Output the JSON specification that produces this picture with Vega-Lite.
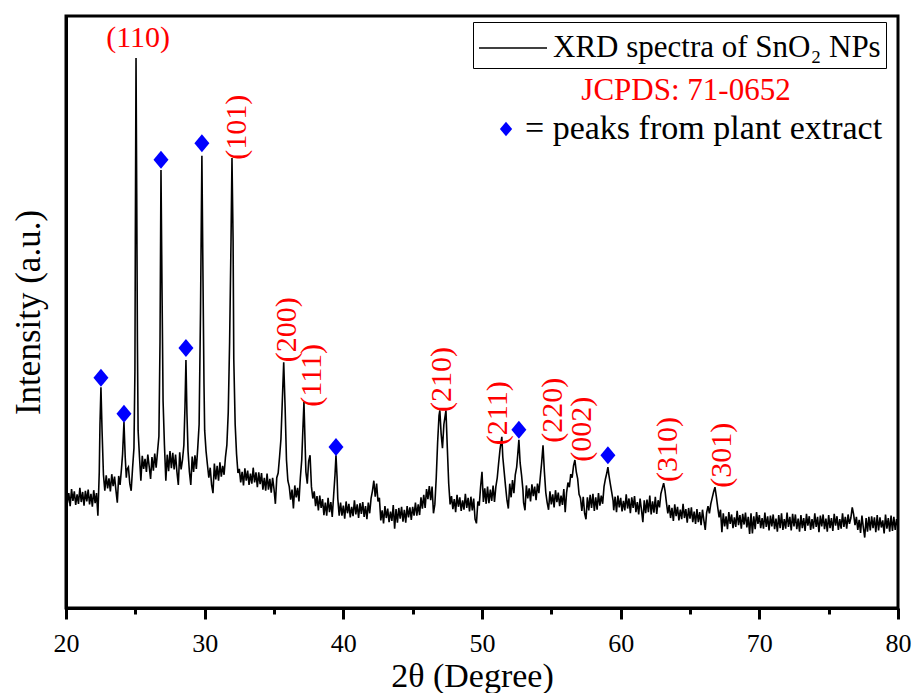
{
  "$schema": "https://vega.github.io/schema/vega-lite/v6.json",
  "width": 832,
  "height": 592,
  "autosize": {"type": "none"},
  "padding": {"left": 66, "top": 16, "right": 16, "bottom": 85},
  "background": "white",
  "config": {
    "font": "Liberation Serif",
    "view": {"stroke": "black", "strokeWidth": 3},
    "axis": {"grid": false}
  },
  "encoding": {
    "x": {
      "field": "x", "type": "quantitative",
      "scale": {"domain": [20, 80], "nice": false, "zero": false},
      "axis": {
        "values": [20, 25, 30, 35, 40, 45, 50, 55, 60, 65, 70, 75, 80],
        "labelExpr": "datum.value % 10 === 0 ? datum.label : ''",
        "tickSize": {"condition": {"test": "datum.value % 10 !== 0", "value": 6}, "value": 11},
        "tickWidth": 3, "tickColor": "black",
        "domainColor": "black", "domainWidth": 3,
        "labelFontSize": 26, "labelColor": "black", "labelPadding": 11,
        "labelFlush": false, "labelOverlap": false,
        "title": "2θ (Degree)", "titleFontSize": 34, "titleFontWeight": "normal",
        "titleColor": "black", "titlePadding": 3, "titleX": 406
      }
    },
    "y": {
      "field": "y", "type": "quantitative",
      "scale": {"domain": [0, 100], "nice": false, "zero": false},
      "axis": {
        "ticks": false, "labels": false,
        "domainColor": "black", "domainWidth": 3,
        "title": "Intensity (a.u.)", "titleFontSize": 35, "titleFontWeight": "normal",
        "titleColor": "black", "titlePadding": 20
      }
    }
  },
  "layer": [
    {
      "data": {"values": [
        {"x":20,"y":19.9},{"x":20.1,"y":17.7},{"x":20.2,"y":19.4},{"x":20.3,"y":17.2},{"x":20.4,"y":20.1},{"x":20.5,"y":18.1},{"x":20.6,"y":19.7},{"x":20.7,"y":17.4},{"x":20.8,"y":19.2},{"x":20.9,"y":17.6},
        {"x":21,"y":20.3},{"x":21.1,"y":17.9},{"x":21.2,"y":19.6},{"x":21.3,"y":17.3},{"x":21.4,"y":19.8},{"x":21.5,"y":18.0},{"x":21.6,"y":20.0},{"x":21.7,"y":17.5},{"x":21.8,"y":19.3},{"x":21.9,"y":17.1},
        {"x":22,"y":19.9},{"x":22.1,"y":17.7},{"x":22.2,"y":19.4},{"x":22.3,"y":15.6},{"x":22.4,"y":23.0},{"x":22.45,"y":31.0},{"x":22.52,"y":37.3},{"x":22.6,"y":30.0},{"x":22.7,"y":22.5},{"x":22.8,"y":19.8},{"x":22.9,"y":22.4},
        {"x":23,"y":20.2},{"x":23.1,"y":21.9},{"x":23.2,"y":19.7},{"x":23.3,"y":22.6},{"x":23.4,"y":20.6},{"x":23.5,"y":22.2},{"x":23.6,"y":19.9},{"x":23.7,"y":17.8},{"x":23.8,"y":22.3},{"x":23.9,"y":20.8},
        {"x":24,"y":23.5},{"x":24.08,"y":26.0},{"x":24.18,"y":31.4},{"x":24.27,"y":25.5},{"x":24.35,"y":22.0},{"x":24.4,"y":23.4},{"x":24.5,"y":23.8},{"x":24.6,"y":21.0},{"x":24.7,"y":19.8},{"x":24.8,"y":23.6},{"x":24.9,"y":27.0},{"x":24.97,"y":40.0},
        {"x":25,"y":62.0},{"x":25.05,"y":92.9},{"x":25.1,"y":70.0},{"x":25.15,"y":45.0},{"x":25.2,"y":30.0},{"x":25.3,"y":25.5},{"x":25.4,"y":21.5},{"x":25.5,"y":25.7},{"x":25.6,"y":23.5},{"x":25.7,"y":25.2},{"x":25.8,"y":23.0},{"x":25.9,"y":25.9},
        {"x":26,"y":23.9},{"x":26.1,"y":21.8},{"x":26.2,"y":25.5},{"x":26.3,"y":23.2},{"x":26.4,"y":26.1},{"x":26.5,"y":23.7},{"x":26.6,"y":26.4},{"x":26.7,"y":29.0},{"x":26.78,"y":45.0},{"x":26.85,"y":74.0},{"x":26.92,"y":55.0},
        {"x":27,"y":35.0},{"x":27.1,"y":27.5},{"x":27.2,"y":21.5},{"x":27.3,"y":25.9},{"x":27.4,"y":23.1},{"x":27.5,"y":26.5},{"x":27.6,"y":23.6},{"x":27.7,"y":26.2},{"x":27.8,"y":23.4},{"x":27.9,"y":25.9},
        {"x":28,"y":23.0},{"x":28.1,"y":20.8},{"x":28.2,"y":26.3},{"x":28.3,"y":23.4},{"x":28.4,"y":25.0},{"x":28.5,"y":27.5},{"x":28.58,"y":34.0},{"x":28.65,"y":41.9},{"x":28.72,"y":33.0},{"x":28.8,"y":26.5},{"x":28.9,"y":23.0},
        {"x":29,"y":20.8},{"x":29.1,"y":25.6},{"x":29.2,"y":23.0},{"x":29.3,"y":25.8},{"x":29.4,"y":23.5},{"x":29.5,"y":27.0},{"x":29.6,"y":31.0},{"x":29.7,"y":50.0},{"x":29.8,"y":76.4},{"x":29.87,"y":58.0},{"x":29.95,"y":38.0},
        {"x":30,"y":30.0},{"x":30.1,"y":26.5},{"x":30.2,"y":24.2},{"x":30.3,"y":22.0},{"x":30.4,"y":23.7},{"x":30.5,"y":20.8},{"x":30.6,"y":19.4},{"x":30.7,"y":24.4},{"x":30.8,"y":21.7},{"x":30.9,"y":24.0},
        {"x":31,"y":21.5},{"x":31.1,"y":24.6},{"x":31.2,"y":22.2},{"x":31.3,"y":24.0},{"x":31.4,"y":22.5},{"x":31.5,"y":25.5},{"x":31.6,"y":27.5},{"x":31.7,"y":33.0},{"x":31.8,"y":45.0},{"x":31.9,"y":62.0},{"x":31.97,"y":76.0},
        {"x":32.05,"y":62.0},{"x":32.1,"y":42.0},{"x":32.2,"y":31.0},{"x":32.3,"y":26.0},{"x":32.4,"y":22.8},{"x":32.5,"y":23.5},{"x":32.6,"y":21.2},{"x":32.7,"y":23.0},{"x":32.8,"y":20.7},{"x":32.9,"y":23.6},
        {"x":33,"y":21.5},{"x":33.1,"y":23.2},{"x":33.2,"y":20.8},{"x":33.3,"y":22.7},{"x":33.4,"y":21.0},{"x":33.5,"y":23.7},{"x":33.6,"y":21.2},{"x":33.7,"y":22.9},{"x":33.8,"y":20.4},{"x":33.9,"y":22.9},
        {"x":34,"y":20.9},{"x":34.1,"y":22.8},{"x":34.2,"y":20.0},{"x":34.3,"y":22.0},{"x":34.4,"y":19.8},{"x":34.5,"y":22.7},{"x":34.6,"y":20.0},{"x":34.7,"y":21.8},{"x":34.8,"y":19.5},{"x":34.9,"y":22.0},
        {"x":35,"y":20.1},{"x":35.1,"y":17.6},{"x":35.2,"y":22.0},{"x":35.3,"y":22.8},{"x":35.4,"y":25.5},{"x":35.5,"y":28.5},{"x":35.6,"y":35.0},{"x":35.7,"y":41.5},{"x":35.8,"y":34.0},{"x":35.9,"y":25.0},
        {"x":36,"y":21.5},{"x":36.1,"y":20.5},{"x":36.2,"y":18.3},{"x":36.3,"y":20.0},{"x":36.4,"y":16.8},{"x":36.5,"y":20.7},{"x":36.6,"y":18.7},{"x":36.7,"y":20.3},{"x":36.8,"y":18.0},{"x":36.9,"y":22.0},
        {"x":37,"y":25.0},{"x":37.08,"y":30.0},{"x":37.16,"y":34.8},{"x":37.24,"y":28.0},{"x":37.3,"y":23.0},{"x":37.4,"y":21.0},{"x":37.5,"y":24.8},{"x":37.6,"y":25.8},{"x":37.7,"y":20.5},{"x":37.8,"y":18.5},{"x":37.9,"y":19.7},
        {"x":38,"y":17.2},{"x":38.1,"y":18.9},{"x":38.2,"y":16.5},{"x":38.3,"y":19.0},{"x":38.4,"y":16.9},{"x":38.5,"y":18.4},{"x":38.6,"y":15.7},{"x":38.7,"y":17.8},{"x":38.8,"y":15.6},{"x":38.9,"y":18.6},
        {"x":39,"y":16.2},{"x":39.1,"y":17.9},{"x":39.2,"y":15.4},{"x":39.3,"y":19.0},{"x":39.4,"y":22.5},{"x":39.47,"y":25.8},{"x":39.55,"y":22.0},{"x":39.6,"y":18.5},{"x":39.7,"y":15.6},{"x":39.8,"y":17.8},{"x":39.9,"y":15.6},
        {"x":40,"y":17.3},{"x":40.1,"y":15.1},{"x":40.2,"y":18.0},{"x":40.3,"y":16.0},{"x":40.4,"y":17.6},{"x":40.5,"y":15.3},{"x":40.6,"y":17.1},{"x":40.7,"y":15.5},{"x":40.8,"y":18.2},{"x":40.9,"y":15.8},
        {"x":41,"y":17.5},{"x":41.1,"y":15.2},{"x":41.2,"y":17.7},{"x":41.3,"y":15.9},{"x":41.4,"y":17.9},{"x":41.5,"y":15.4},{"x":41.6,"y":17.2},{"x":41.7,"y":15.0},{"x":41.8,"y":17.8},{"x":41.9,"y":16.0},
        {"x":42,"y":18.5},{"x":42.1,"y":19.8},{"x":42.2,"y":21.5},{"x":42.3,"y":18.8},{"x":42.4,"y":21.0},{"x":42.5,"y":18.0},{"x":42.6,"y":18.6},{"x":42.7,"y":14.8},{"x":42.8,"y":16.5},{"x":42.9,"y":14.3},
        {"x":43,"y":17.2},{"x":43.1,"y":15.2},{"x":43.2,"y":16.8},{"x":43.3,"y":14.5},{"x":43.4,"y":16.3},{"x":43.5,"y":14.7},{"x":43.6,"y":17.4},{"x":43.7,"y":13.4},{"x":43.8,"y":16.7},{"x":43.9,"y":14.4},
        {"x":44,"y":16.9},{"x":44.1,"y":15.1},{"x":44.2,"y":17.1},{"x":44.3,"y":14.6},{"x":44.4,"y":16.6},{"x":44.5,"y":14.4},{"x":44.6,"y":17.2},{"x":44.7,"y":15.3},{"x":44.8,"y":17.0},{"x":44.9,"y":14.9},
        {"x":45,"y":17.1},{"x":45.1,"y":15.6},{"x":45.2,"y":17.8},{"x":45.3,"y":15.6},{"x":45.4,"y":17.5},{"x":45.5,"y":15.7},{"x":45.6,"y":18.7},{"x":45.7,"y":16.8},{"x":45.8,"y":19.1},{"x":45.9,"y":16.9},
        {"x":46,"y":20.1},{"x":46.1,"y":18.4},{"x":46.2,"y":20.6},{"x":46.3,"y":18.2},{"x":46.4,"y":20.5},{"x":46.5,"y":16.0},{"x":46.6,"y":17.5},{"x":46.7,"y":22.0},{"x":46.8,"y":28.0},{"x":46.9,"y":32.5},{"x":46.96,"y":33.4},
        {"x":47.05,"y":29.5},{"x":47.15,"y":27.0},{"x":47.25,"y":31.0},{"x":47.4,"y":33.4},{"x":47.5,"y":27.0},{"x":47.6,"y":21.0},{"x":47.7,"y":17.5},{"x":47.8,"y":18.9},{"x":47.9,"y":16.7},
        {"x":48,"y":18.4},{"x":48.1,"y":16.2},{"x":48.2,"y":19.1},{"x":48.3,"y":17.1},{"x":48.4,"y":18.7},{"x":48.5,"y":16.4},{"x":48.6,"y":18.2},{"x":48.7,"y":16.6},{"x":48.8,"y":19.3},{"x":48.9,"y":16.9},
        {"x":49,"y":18.6},{"x":49.1,"y":16.3},{"x":49.2,"y":18.8},{"x":49.3,"y":16.5},{"x":49.4,"y":18.5},{"x":49.5,"y":15.0},{"x":49.6,"y":14.3},{"x":49.7,"y":18.0},{"x":49.8,"y":17.3},{"x":49.9,"y":20.5},
        {"x":50,"y":23.0},{"x":50.1,"y":17.9},{"x":50.2,"y":20.2},{"x":50.3,"y":17.6},{"x":50.4,"y":20.5},{"x":50.5,"y":17.7},{"x":50.6,"y":20.0},{"x":50.7,"y":18.1},{"x":50.8,"y":20.7},{"x":50.9,"y":17.9},
        {"x":51,"y":20.5},{"x":51.1,"y":22.0},{"x":51.2,"y":24.5},{"x":51.3,"y":26.8},{"x":51.43,"y":28.9},{"x":51.5,"y":25.5},{"x":51.6,"y":23.0},{"x":51.7,"y":20.5},{"x":51.8,"y":18.2},{"x":51.9,"y":16.8},
        {"x":52,"y":21.0},{"x":52.1,"y":18.7},{"x":52.2,"y":21.6},{"x":52.3,"y":19.4},{"x":52.4,"y":22.5},{"x":52.5,"y":23.8},{"x":52.58,"y":26.0},{"x":52.66,"y":28.4},{"x":52.75,"y":24.5},{"x":52.85,"y":22.5},{"x":52.95,"y":20.0},
        {"x":53,"y":17.8},{"x":53.1,"y":16.5},{"x":53.2,"y":20.7},{"x":53.3,"y":18.5},{"x":53.4,"y":20.2},{"x":53.5,"y":18.0},{"x":53.6,"y":20.9},{"x":53.7,"y":18.9},{"x":53.8,"y":20.5},{"x":53.9,"y":18.2},
        {"x":54,"y":21.0},{"x":54.1,"y":19.4},{"x":54.2,"y":22.0},{"x":54.3,"y":24.5},{"x":54.4,"y":27.5},{"x":54.5,"y":23.0},{"x":54.6,"y":19.5},{"x":54.7,"y":17.8},{"x":54.8,"y":16.6},{"x":54.9,"y":19.7},
        {"x":55,"y":17.5},{"x":55.1,"y":19.2},{"x":55.2,"y":17.0},{"x":55.3,"y":19.9},{"x":55.4,"y":17.9},{"x":55.5,"y":19.5},{"x":55.6,"y":17.2},{"x":55.7,"y":19.0},{"x":55.8,"y":17.4},{"x":55.9,"y":20.1},
        {"x":56,"y":16.2},{"x":56.1,"y":19.5},{"x":56.2,"y":21.2},{"x":56.3,"y":20.4},{"x":56.4,"y":22.6},{"x":56.5,"y":22.0},{"x":56.6,"y":24.0},{"x":56.7,"y":25.0},{"x":56.8,"y":23.0},{"x":56.9,"y":21.8},
        {"x":57,"y":19.2},{"x":57.1,"y":18.6},{"x":57.2,"y":16.4},{"x":57.3,"y":18.8},{"x":57.4,"y":16.0},{"x":57.5,"y":15.0},{"x":57.6,"y":18.7},{"x":57.7,"y":16.5},{"x":57.8,"y":19.1},{"x":57.9,"y":16.9},
        {"x":58,"y":19.3},{"x":58.1,"y":16.4},{"x":58.2,"y":18.7},{"x":58.3,"y":16.6},{"x":58.4,"y":19.4},{"x":58.5,"y":17.3},{"x":58.6,"y":19.0},{"x":58.7,"y":17.6},{"x":58.8,"y":20.5},{"x":58.9,"y":21.8},
        {"x":59,"y":22.8},{"x":59.08,"y":23.8},{"x":59.15,"y":22.5},{"x":59.25,"y":21.0},{"x":59.35,"y":19.6},{"x":59.45,"y":18.2},{"x":59.5,"y":16.5},{"x":59.6,"y":18.8},{"x":59.7,"y":16.2},{"x":59.8,"y":19.0},{"x":59.9,"y":17.0},
        {"x":60,"y":18.6},{"x":60.1,"y":16.3},{"x":60.2,"y":18.1},{"x":60.3,"y":16.5},{"x":60.4,"y":19.2},{"x":60.5,"y":16.8},{"x":60.6,"y":18.5},{"x":60.7,"y":16.0},{"x":60.8,"y":18.7},{"x":60.9,"y":16.9},
        {"x":61,"y":18.9},{"x":61.1,"y":16.2},{"x":61.2,"y":17.9},{"x":61.3,"y":15.8},{"x":61.4,"y":18.5},{"x":61.5,"y":16.6},{"x":61.6,"y":14.5},{"x":61.7,"y":18.2},{"x":61.8,"y":16.0},{"x":61.9,"y":18.3},
        {"x":62,"y":16.2},{"x":62.1,"y":19.0},{"x":62.2,"y":15.8},{"x":62.3,"y":18.0},{"x":62.4,"y":16.1},{"x":62.5,"y":18.8},{"x":62.6,"y":15.9},{"x":62.7,"y":18.2},{"x":62.8,"y":17.0},{"x":62.9,"y":19.3},
        {"x":63,"y":20.2},{"x":63.1,"y":21.1},{"x":63.2,"y":19.8},{"x":63.3,"y":17.8},{"x":63.4,"y":16.0},{"x":63.5,"y":17.4},{"x":63.6,"y":15.2},{"x":63.7,"y":16.9},{"x":63.8,"y":14.7},{"x":63.9,"y":17.5},
        {"x":64,"y":15.5},{"x":64.1,"y":17.1},{"x":64.2,"y":14.8},{"x":64.3,"y":16.6},{"x":64.4,"y":15.0},{"x":64.5,"y":17.6},{"x":64.6,"y":15.2},{"x":64.7,"y":16.7},{"x":64.8,"y":14.4},{"x":64.9,"y":16.9},
        {"x":65,"y":15.1},{"x":65.1,"y":17.0},{"x":65.2,"y":14.5},{"x":65.3,"y":16.3},{"x":65.4,"y":14.2},{"x":65.5,"y":16.7},{"x":65.6,"y":14.5},{"x":65.7,"y":16.2},{"x":65.8,"y":14.0},{"x":65.9,"y":16.6},
        {"x":66,"y":14.8},{"x":66.1,"y":13.2},{"x":66.2,"y":16.1},{"x":66.3,"y":17.2},{"x":66.4,"y":16.0},{"x":66.5,"y":17.6},{"x":66.6,"y":18.6},{"x":66.7,"y":19.6},{"x":66.8,"y":20.4},{"x":66.9,"y":18.8},
        {"x":67,"y":17.0},{"x":67.1,"y":15.3},{"x":67.2,"y":16.6},{"x":67.3,"y":12.8},{"x":67.4,"y":16.0},{"x":67.5,"y":13.8},{"x":67.6,"y":15.5},{"x":67.7,"y":13.3},{"x":67.8,"y":16.2},{"x":67.9,"y":14.2},
        {"x":68,"y":15.8},{"x":68.1,"y":13.5},{"x":68.2,"y":15.3},{"x":68.3,"y":13.7},{"x":68.4,"y":16.4},{"x":68.5,"y":14.0},{"x":68.6,"y":15.7},{"x":68.7,"y":13.4},{"x":68.8,"y":15.9},{"x":68.9,"y":14.1},
        {"x":69,"y":16.1},{"x":69.1,"y":13.6},{"x":69.2,"y":15.4},{"x":69.3,"y":12.5},{"x":69.4,"y":16.0},{"x":69.5,"y":12.6},{"x":69.6,"y":15.5},{"x":69.7,"y":13.3},{"x":69.8,"y":16.2},{"x":69.9,"y":14.2},
        {"x":70,"y":15.7},{"x":70.1,"y":13.5},{"x":70.2,"y":15.2},{"x":70.3,"y":13.4},{"x":70.4,"y":16.1},{"x":70.5,"y":13.7},{"x":70.6,"y":15.5},{"x":70.7,"y":13.1},{"x":70.8,"y":15.6},{"x":70.9,"y":13.8},
        {"x":71,"y":15.8},{"x":71.1,"y":13.3},{"x":71.2,"y":15.1},{"x":71.3,"y":12.9},{"x":71.4,"y":15.7},{"x":71.5,"y":13.5},{"x":71.6,"y":16.0},{"x":71.7,"y":13.2},{"x":71.8,"y":15.0},{"x":71.9,"y":13.4},
        {"x":72,"y":16.1},{"x":72.1,"y":13.7},{"x":72.2,"y":15.4},{"x":72.3,"y":13.1},{"x":72.4,"y":15.9},{"x":72.5,"y":13.8},{"x":72.6,"y":15.8},{"x":72.7,"y":13.3},{"x":72.8,"y":15.1},{"x":72.9,"y":12.9},
        {"x":73,"y":15.7},{"x":73.1,"y":13.5},{"x":73.2,"y":15.2},{"x":73.3,"y":13.0},{"x":73.4,"y":15.9},{"x":73.5,"y":13.9},{"x":73.6,"y":15.5},{"x":73.7,"y":13.2},{"x":73.8,"y":15.0},{"x":73.9,"y":13.4},
        {"x":74,"y":16.0},{"x":74.1,"y":13.7},{"x":74.2,"y":15.4},{"x":74.3,"y":12.8},{"x":74.4,"y":15.6},{"x":74.5,"y":13.8},{"x":74.6,"y":15.8},{"x":74.7,"y":13.3},{"x":74.8,"y":15.1},{"x":74.9,"y":12.9},
        {"x":75,"y":15.7},{"x":75.1,"y":13.5},{"x":75.2,"y":15.2},{"x":75.3,"y":13.0},{"x":75.4,"y":15.9},{"x":75.5,"y":13.9},{"x":75.6,"y":15.5},{"x":75.7,"y":13.2},{"x":75.8,"y":15.0},{"x":75.9,"y":13.4},
        {"x":76,"y":16.0},{"x":76.1,"y":13.7},{"x":76.2,"y":15.4},{"x":76.3,"y":13.4},{"x":76.4,"y":15.8},{"x":76.5,"y":14.2},{"x":76.6,"y":15.2},{"x":76.7,"y":17.0},{"x":76.8,"y":15.8},{"x":76.9,"y":14.0},
        {"x":77,"y":15.4},{"x":77.1,"y":13.2},{"x":77.2,"y":14.9},{"x":77.3,"y":12.7},{"x":77.4,"y":15.6},{"x":77.5,"y":13.6},{"x":77.6,"y":11.9},{"x":77.7,"y":15.2},{"x":77.8,"y":12.9},{"x":77.9,"y":15.4},
        {"x":78,"y":13.1},{"x":78.1,"y":15.5},{"x":78.2,"y":13.5},{"x":78.3,"y":15.3},{"x":78.4,"y":12.8},{"x":78.5,"y":15.7},{"x":78.6,"y":13.1},{"x":78.7,"y":15.3},{"x":78.8,"y":13.6},{"x":78.9,"y":14.8},
        {"x":79,"y":12.6},{"x":79.1,"y":15.8},{"x":79.2,"y":13.4},{"x":79.3,"y":15.2},{"x":79.4,"y":12.9},{"x":79.5,"y":15.6},{"x":79.6,"y":13.0},{"x":79.7,"y":15.4},{"x":79.8,"y":13.2},{"x":79.9,"y":15.0},
        {"x":80,"y":13.6}
      ]},
      "mark": {"type": "line", "strokeWidth": 1.6},
      "encoding": {
        "color": {
          "datum": "XRD spectra of SnO₂ NPs",
          "scale": {"range": ["black"]},
          "legend": {
            "orient": "none", "legendX": 407, "legendY": 6, "title": null,
            "strokeColor": "black", "fillColor": "white", "padding": 5,
            "symbolType": "M-1.7,0L1.7,0", "symbolSize": 1600, "symbolOffset": 14,
            "symbolStrokeWidth": 1.3, "symbolStrokeColor": "black",
            "labelFont": "Liberation Serif", "labelFontSize": 31, "labelColor": "black",
            "labelLimit": 1000, "labelOffset": 19
          }
        }
      }
    },
    {
      "data": {"values": [
        {"x":22.52,"y":38.9},{"x":24.18,"y":32.8},{"x":26.85,"y":75.7},{"x":28.65,"y":43.9},
        {"x":29.8,"y":78.5},{"x":39.47,"y":27.2},{"x":52.66,"y":30.1},{"x":59.08,"y":25.8}
      ]},
      "mark": {"type": "point", "filled": true, "color": "blue", "opacity": 1, "size": 225, "strokeWidth": 0},
      "encoding": {
        "shape": {
          "datum": "= peaks from plant extract",
          "scale": {"range": ["M-1,0L0,-1.2L1,0L0,1.2Z"]},
          "legend": {
            "orient": "none", "legendX": 418, "legendY": 55,
            "title": "JCPDS: 71-0652", "titleColor": "red", "titleFont": "Liberation Serif",
            "titleFontSize": 31, "titleFontWeight": "normal", "titleAnchor": "middle",
            "titleLimit": 1000, "titlePadding": 5, "padding": 5,
            "symbolSize": 150, "symbolFillColor": "blue", "symbolStrokeColor": "blue", "symbolStrokeWidth": 0,
            "labelFont": "Liberation Serif", "labelFontSize": 34, "labelColor": "black",
            "labelLimit": 1000, "labelOffset": 2
          }
        }
      }
    },
    {
      "data": {"values": [
        {"hkl":"(101)","x":32.3,"y":75.7},
        {"hkl":"(200)","x":35.93,"y":41.5},
        {"hkl":"(111)","x":37.74,"y":34.0},
        {"hkl":"(210)","x":47.1,"y":33.1},
        {"hkl":"(211)","x":51.15,"y":27.5},
        {"hkl":"(220)","x":55.1,"y":27.9},
        {"hkl":"(002)","x":57.2,"y":24.7},
        {"hkl":"(310)","x":63.4,"y":21.3},
        {"hkl":"(301)","x":67.3,"y":20.3}
      ]},
      "mark": {"type": "text", "angle": 270, "align": "left", "baseline": "middle", "color": "red", "font": "Liberation Serif", "fontSize": 30},
      "encoding": {"text": {"field": "hkl"}}
    },
    {
      "data": {"values": [{"hkl":"(110)","x":25.2,"y":93.8}]},
      "mark": {"type": "text", "align": "center", "baseline": "bottom", "color": "red", "font": "Liberation Serif", "fontSize": 30},
      "encoding": {"text": {"field": "hkl"}}
    }
  ]
}
